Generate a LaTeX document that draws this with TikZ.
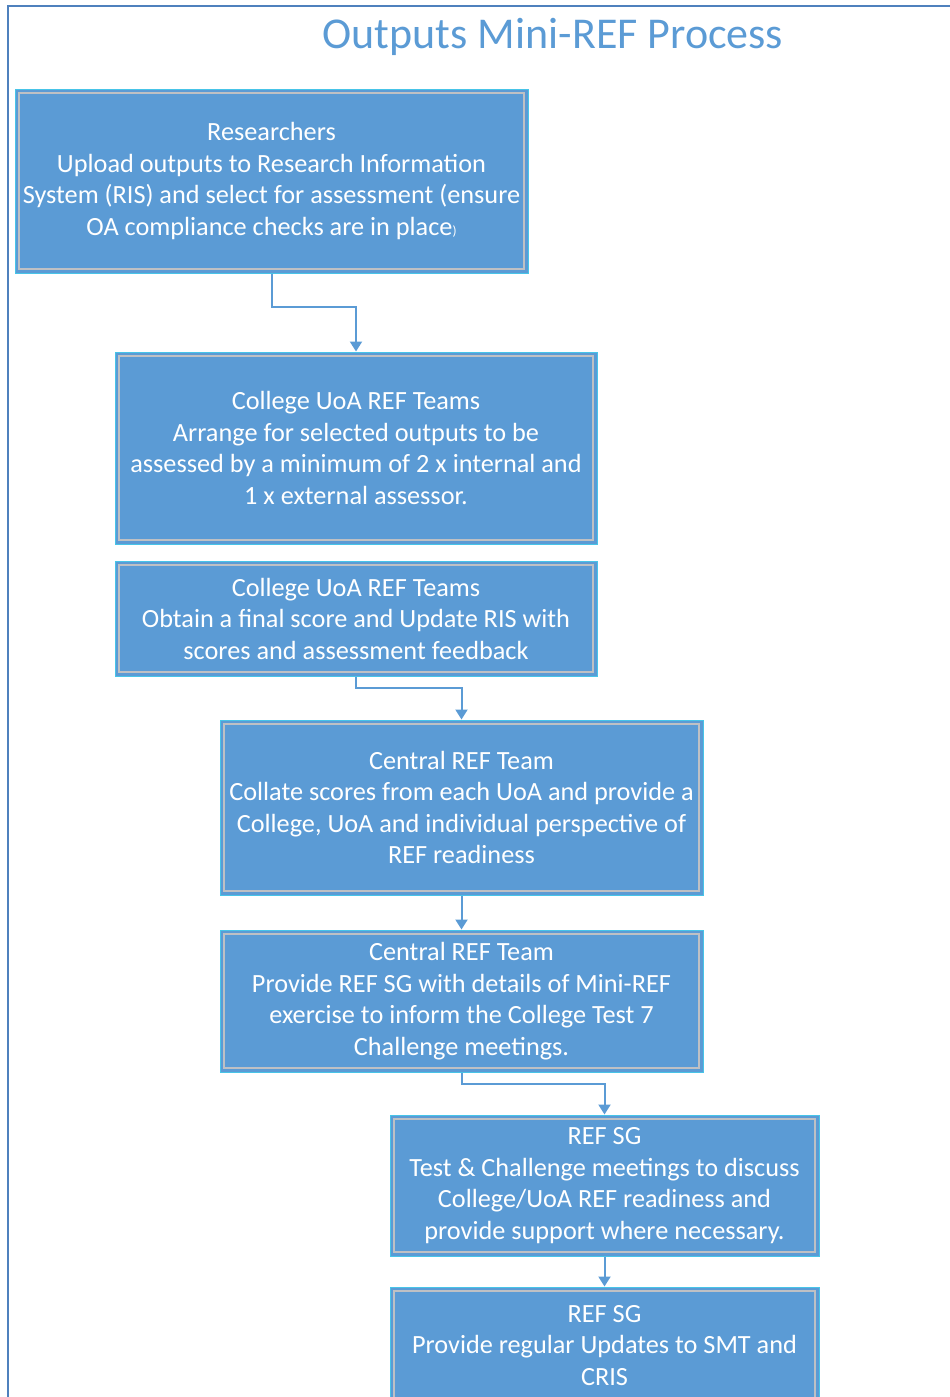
\documentclass[tikz,border=0pt]{standalone}
\usepackage{fontspec}
\setmainfont{Carlito}
\usetikzlibrary{arrows.meta}

\definecolor{boxblue}{RGB}{91,155,213}
\definecolor{boxedge}{RGB}{72,196,232}
\definecolor{inneredge}{RGB}{190,192,196}
\definecolor{framecol}{RGB}{79,129,189}

\tikzset{every picture/.style={line width=0.75pt}}
\tikzset{
  stepbox/.style={draw=boxedge, fill=boxblue, text=white, align=center, inner sep=2pt,
    font=\fontsize{19.7}{23.6}\selectfont,
    path picture={\draw[inneredge, line width=1.1pt]
      ([shift={(3pt,3pt)}]path picture bounding box.south west) rectangle
      ([shift={(-3pt,-3pt)}]path picture bounding box.north east);}},
  flow/.style={draw=boxblue, line width=1.5pt, -{Triangle[width=9pt,length=7.5pt]}},
}

\begin{document}
\begin{tikzpicture}[x=0.75pt,y=0.75pt,yscale=-1,xscale=1]

\useasboundingbox (0,0) rectangle (950,1397);

\draw  [framecol, line width=1.2pt]  (8,1400) -- (8,6) -- (952,6) ;

\node (title) at (553,37) [text=boxblue, font=\fontsize{33}{38}\selectfont] {Outputs Mini-REF Process};

\node (res) at (271.5,181) [stepbox, minimum width=384.75pt, minimum height=138pt] {Researchers\\Upload outputs to Research Information\\System (RIS) and select for assessment (ensure\\OA compliance checks are in place{\fontsize{10}{12}\selectfont)}};
\node (arr) at (356,448) [stepbox, minimum width=361.5pt, minimum height=144pt] {College UoA REF Teams\\Arrange for selected outputs to be\\assessed by a minimum of 2 x internal and\\1 x external assessor.};
\node (obt) at (356,618.5) [stepbox, minimum width=361.5pt, minimum height=86.25pt] {College UoA REF Teams\\Obtain a final score and Update RIS with\\scores and assessment feedback};
\node (col) at (461.5,807.5) [stepbox, minimum width=362.25pt, minimum height=131.25pt] {Central REF Team\\Collate scores from each UoA and provide a\\College, UoA and individual perspective of\\REF readiness};
\node (prov) at (461.5,1001) [stepbox, minimum width=362.25pt, minimum height=106.5pt] {Central REF Team\\Provide REF SG with details of Mini-REF\\exercise to inform the College Test 7\\Challenge meetings.};
\node (sgt) at (604.5,1185.5) [stepbox, minimum width=321.75pt, minimum height=105.75pt] {REF SG\\Test \& Challenge meetings to discuss\\College/UoA REF readiness and\\provide support where necessary.};
\node (sgu) at (604.5,1345.5) [stepbox, minimum width=321.75pt, minimum height=87.75pt] {REF SG\\Provide regular Updates to SMT and\\CRIS};

\draw [flow] (res.south) -- ++(0,33) -| (arr.north) ;
\draw [flow] (obt.south) -- ++(0,11) -| (col.north) ;
\draw [flow] (col.south) -- (prov.north) ;
\draw [flow] (prov.south) -- ++(0,11) -| (sgt.north) ;
\draw [flow] (sgt.south) -- (sgu.north) ;

\end{tikzpicture}
\end{document}
